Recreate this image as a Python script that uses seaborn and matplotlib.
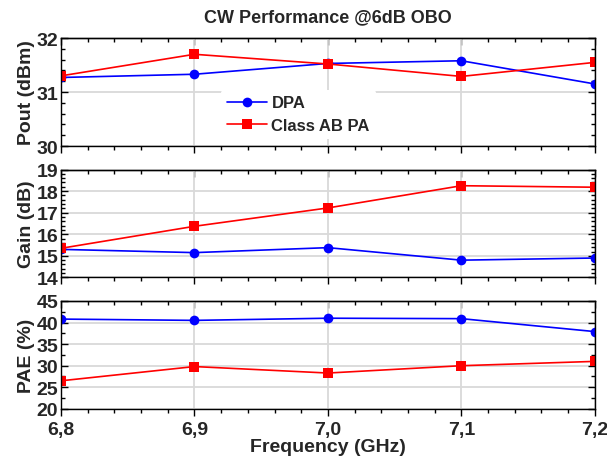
import numpy as np
import pandas as pd
import matplotlib
matplotlib.use("Agg")
import matplotlib.pyplot as plt
from matplotlib.ticker import MultipleLocator, FuncFormatter, NullFormatter
import seaborn as sns

freq = [6.8, 6.9, 7.0, 7.1, 7.2]
dpa_pout = [31.27, 31.33, 31.53, 31.58, 31.15]
ab_pout = [31.30, 31.70, 31.52, 31.29, 31.55]
dpa_gain = [15.30, 15.15, 15.38, 14.80, 14.90]
ab_gain = [15.35, 16.37, 17.22, 18.25, 18.18]
dpa_pae = [40.8, 40.5, 41.0, 40.9, 37.9]
ab_pae = [26.5, 29.8, 28.3, 30.0, 31.0]
series = ["DPA", "Class AB PA"]

sns.set_style("ticks")
plt.rcParams["font.family"] = ["Liberation Sans", "DejaVu Sans"]
plt.rcParams["font.weight"] = "bold"
plt.rcParams["axes.labelweight"] = "bold"
plt.rcParams["axes.titleweight"] = "bold"

df = pd.DataFrame({
    "freq": freq * 2,
    "series": [series[0]] * 5 + [series[1]] * 5,
    "pout": dpa_pout + ab_pout,
    "gain": dpa_gain + ab_gain,
    "pae": dpa_pae + ab_pae,
})

fig, axes = plt.subplots(3, 1, figsize=(6.07, 4.6), dpi=100, sharex=True)
fig.subplots_adjust(left=0.1005, right=0.980, top=0.915, bottom=0.109, hspace=0.218)

panels = [("pout", "Pout (dBm)", (30, 32), 1, 0.2),
          ("gain", "Gain (dB)", (14, 19), 1, 0.2),
          ("pae", "PAE (%)", (20, 45), 5, 2.5)]

fs = 14
for ax, (col, label, lim, major, minor) in zip(axes, panels):
    sns.lineplot(data=df, x="freq", y=col, hue="series", style="series",
                 palette=["#0000FF", "#FF0000"], markers=["o", "s"], dashes=False,
                 markersize=7, markeredgewidth=0, linewidth=1.2, ax=ax,
                 legend=(col == "pout"))
    ax.set_ylim(*lim)
    ax.set_xlim(6.8, 7.2)
    ax.yaxis.set_major_locator(MultipleLocator(major))
    ax.yaxis.set_minor_locator(MultipleLocator(minor))
    ax.xaxis.set_major_locator(MultipleLocator(0.1))
    ax.xaxis.set_minor_locator(MultipleLocator(0.02))
    ax.grid(True, which="major", color="#d9d9d9", linewidth=1.3)
    ax.set_axisbelow(True)
    ax.set_ylabel(label, fontsize=fs, fontweight="bold", labelpad=1)
    ax.set_xlabel("")
    for s in ax.spines.values():
        s.set_visible(True)
        s.set_color("black")
        s.set_linewidth(1.0)
    ax.tick_params(axis="y", which="major", direction="in", length=5, width=1,
                   labelsize=fs, pad=2, left=True, right=True, color="black")
    ax.tick_params(axis="y", which="minor", direction="in", length=3, width=1,
                   left=True, right=True, color="black")
    ax.tick_params(axis="x", which="major", direction="out", length=5, width=1,
                   labelsize=fs, bottom=True, top=False, color="black")
    ax.tick_params(axis="x", which="minor", direction="out", length=3, width=1,
                   bottom=True, top=False, color="black")
    # top edge keeps its ticks pointing inwards
    top = ax.secondary_xaxis("top")
    top.xaxis.set_major_locator(MultipleLocator(0.1))
    top.xaxis.set_minor_locator(MultipleLocator(0.02))
    top.xaxis.set_major_formatter(NullFormatter())
    top.tick_params(which="major", direction="in", length=5, width=1, color="black")
    top.tick_params(which="minor", direction="in", length=3, width=1, color="black")
    top.spines["top"].set_linewidth(1.0)

axes[2].xaxis.set_major_formatter(FuncFormatter(lambda v, p: ("%.1f" % v).replace(".", ",")))
axes[2].set_xlabel("Frequency (GHz)", fontsize=fs, fontweight="bold", labelpad=0)
axes[0].set_title("CW Performance @6dB OBO", fontsize=13, fontweight="bold", pad=12)

leg = axes[0].legend(title=None, loc="upper left", bbox_to_anchor=(0.285, 0.60),
                     frameon=True, facecolor="white", edgecolor="white", framealpha=1,
                     prop={"size": 12, "weight": "bold"}, handlelength=2.4,
                     borderpad=0.35, labelspacing=0.45, handletextpad=0.25)
leg.get_frame().set_linewidth(0)

fig.savefig("out.png", dpi=100)
